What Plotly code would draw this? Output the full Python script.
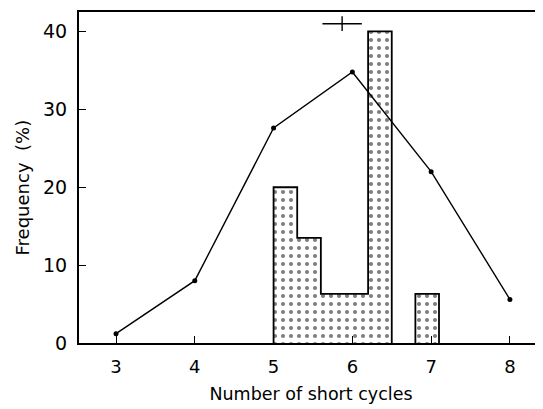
import plotly.graph_objects as go

# frequency of short cycles (line with dots)
cycles = [3, 4, 5, 6, 7, 8]
cycles_pct = [1.2, 8.0, 27.6, 34.8, 22.0, 5.6]

# stippled histogram, bins of 0.3
bin_left = [5.0, 5.3, 5.6, 5.9, 6.2, 6.5, 6.8]
bin_pct = [20.0, 13.5, 6.3, 6.3, 40.0, 0.0, 6.3]
bin_width = 0.3

# mean +- range marker at the top
mean_x = [5.87]
mean_y = [41.0]
mean_dx = [0.25]
mean_dy = [0.95]


def step_outline(lefts, heights, width):
    # outline of the histogram, no inner edges
    xs, ys = [], []
    prev = 0
    for left, h in zip(lefts, heights):
        if h > 0 and prev == 0:
            if xs:
                xs.append(None)
                ys.append(None)
            xs.append(left)
            ys.append(0)
        if h > 0:
            xs.append(left)
            ys.append(h)
        if h == 0 and prev > 0:
            xs.append(left)
            ys.append(0)
        prev = h
    if prev > 0:
        xs.append(lefts[-1] + width)
        ys.append(0)
    return xs, ys


out_x, out_y = step_outline(bin_left, bin_pct, bin_width)

fig = go.Figure()
fig.add_trace(go.Bar(
    x=bin_left, y=bin_pct, width=bin_width, offset=0,
    marker=dict(
        color="white",
        line=dict(width=0),
        pattern=dict(shape=".", fgcolor="black", bgcolor="white",
                     size=8, solidity=0.22),
    ),
    showlegend=False,
))
fig.add_trace(go.Scatter(
    x=out_x, y=out_y, mode="lines", line_shape="hv",
    line=dict(color="black", width=1.8), showlegend=False,
))
fig.add_trace(go.Scatter(
    x=cycles, y=cycles_pct, mode="lines+markers",
    line=dict(color="black", width=1.4),
    marker=dict(color="black", size=5), showlegend=False,
))
fig.add_trace(go.Scatter(
    x=mean_x, y=mean_y, mode="markers",
    marker=dict(size=1, color="black"),
    error_x=dict(type="data", array=mean_dx, width=0, thickness=1.4, color="black"),
    error_y=dict(type="data", array=mean_dy, width=0, thickness=1.4, color="black"),
    showlegend=False,
))

# page body keeps an 8px margin, so the figure is 8px smaller
font = dict(family="DejaVu Sans", color="black")
fig.update_layout(
    width=535, height=401,
    margin=dict(l=71, r=0, t=4, b=66),
    paper_bgcolor="white", plot_bgcolor="white",
    font=font,
    bargap=0,
    annotations=[dict(
        text="Frequency  (%)", textangle=-90, showarrow=False,
        xref="paper", yref="paper", x=0, y=0.47, xanchor="center",
        xshift=-57, font=dict(size=18),
    )],
)
fig.update_xaxes(
    range=[2.53, 8.42], tickvals=cycles, ticks="inside", ticklen=7,
    tickwidth=1.3, tickcolor="black", showline=True, linecolor="black",
    linewidth=2, mirror=True, showgrid=False, zeroline=False,
    tickfont=dict(size=18), ticklabelstandoff=6, automargin=False,
    title=dict(text="Number of short cycles", font=dict(size=17.5), standoff=12),
)
fig.update_yaxes(
    range=[0, 42.5], tickvals=[0, 10, 20, 30, 40], ticks="inside", ticklen=7,
    tickwidth=1.3, tickcolor="black", showline=True, linecolor="black",
    linewidth=2, showgrid=False, zeroline=False,
    tickfont=dict(size=19), ticklabelstandoff=6, automargin=False,
)

fig.write_html("out.html")
